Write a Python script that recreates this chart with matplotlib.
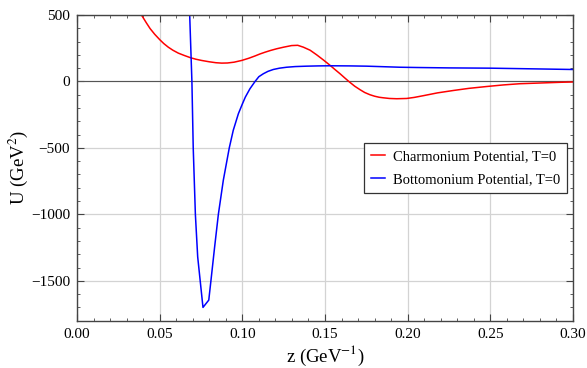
import matplotlib
matplotlib.use('Agg')
import matplotlib.pyplot as plt
from matplotlib.ticker import MultipleLocator, FuncFormatter

plt.rcParams['font.family'] = ['Liberation Serif', 'DejaVu Serif']
plt.rcParams['mathtext.fontset'] = 'stix'

# Charmonium potential, T=0
z_charm = [0.0370, 0.0391, 0.0420, 0.0442, 0.0470, 0.0500, 0.0525, 0.0552, 0.0580,
           0.0613, 0.0650, 0.0688, 0.0720, 0.0754, 0.0800, 0.0840, 0.0875, 0.0910,
           0.0950, 0.0996, 0.1040, 0.1077, 0.1107, 0.1137, 0.1170, 0.1208, 0.1250,
           0.1298, 0.1335, 0.1369, 0.1410, 0.1450, 0.1490, 0.1530, 0.1560, 0.1591,
           0.1620, 0.1647, 0.1680, 0.1712, 0.1740, 0.1772, 0.1800, 0.1828, 0.1853,
           0.1890, 0.1934, 0.1994, 0.2040, 0.2095, 0.2180, 0.2276, 0.2370, 0.2478,
           0.2580, 0.2679, 0.2770, 0.2861, 0.2930, 0.3000]
u_charm = [560, 498, 440, 398, 355, 315, 285, 258, 235,
           213, 195, 178, 167, 158, 148, 141, 138, 139,
           145, 158, 175, 192, 207, 220, 233, 246, 258,
           270, 272, 258, 235, 200, 162, 122, 90, 58,
           26, -3, -36, -62, -83, -100, -111, -119, -123,
           -128, -130, -128, -120, -107, -86, -68, -52, -38,
           -26, -17, -13, -9, -6, -4]

# Bottomonium potential, T=0
z_bottom = [0.0680, 0.0695, 0.0703, 0.0716, 0.0730, 0.0762, 0.0797, 0.0810, 0.0832,
            0.0855, 0.0885, 0.0921, 0.0945, 0.0976, 0.1000, 0.1018, 0.1046, 0.1077,
            0.1100, 0.1127, 0.1155, 0.1187, 0.1225, 0.1268, 0.1320, 0.1389, 0.1460,
            0.1530, 0.1650, 0.1752, 0.1954, 0.2055, 0.2250, 0.2498, 0.2750, 0.3000]
u_bottom = [560, 0, -500, -1000, -1320, -1700, -1645, -1500, -1250,
            -1000, -743, -500, -368, -243, -170, -118, -55, 0,
            36, 58, 76, 90, 100, 107, 112, 115, 117,
            118, 117, 115, 107, 105, 102, 100, 95, 90]

fig = plt.figure(figsize=(5.87, 3.68), dpi=100)
ax = fig.add_axes([77 / 587, 1 - 320.7 / 368, 496 / 587, 305.7 / 368])

ax.plot(z_charm, u_charm, color='#ff0000', lw=1.1, label='Charmonium Potential, T=0')
ax.plot(z_bottom, u_bottom, color='#0000ff', lw=1.1, label='Bottomonium Potential, T=0')
ax.axhline(0, color='#555555', lw=0.8, zorder=1)

ax.set_xlim(0, 0.30)
ax.set_ylim(-1800, 500)
ax.xaxis.set_major_locator(MultipleLocator(0.05))
ax.xaxis.set_minor_locator(MultipleLocator(0.01))
ax.yaxis.set_major_locator(MultipleLocator(500))
ax.yaxis.set_minor_locator(MultipleLocator(100))
ax.xaxis.set_major_formatter(FuncFormatter(lambda v, p: '%.2f' % v))
ax.yaxis.set_major_formatter(FuncFormatter(lambda v, p: ('\u2212%d' % -v) if v < 0 else '%d' % v))

ax.grid(True, which='major', color='#d3d3d3', lw=0.9, zorder=0)
ax.set_axisbelow(True)
ax.tick_params(which='both', direction='in', top=True, right=True, labelsize=11,
               color='#444444', pad=5)
ax.tick_params(which='major', length=5, width=0.8)
ax.tick_params(which='minor', length=2.5, width=0.6)
for sp in ax.spines.values():
    sp.set_color('#444444')
    sp.set_linewidth(1.0)

ax.set_xlabel('z (GeV$^{-1}$)', fontsize=13.5, labelpad=2)
ax.set_ylabel('U (GeV$^{2}$)', fontsize=13.5, labelpad=0.5)

leg = ax.legend(loc='center right', bbox_to_anchor=(0.9885, 0.499), borderaxespad=0,
                fontsize=10.5, frameon=True, fancybox=False, framealpha=1,
                edgecolor='#333333', handlelength=1.0, handletextpad=0.55,
                borderpad=0.45, labelspacing=0.7)
leg.get_frame().set_linewidth(0.9)

fig.savefig('out.png', dpi=100)
